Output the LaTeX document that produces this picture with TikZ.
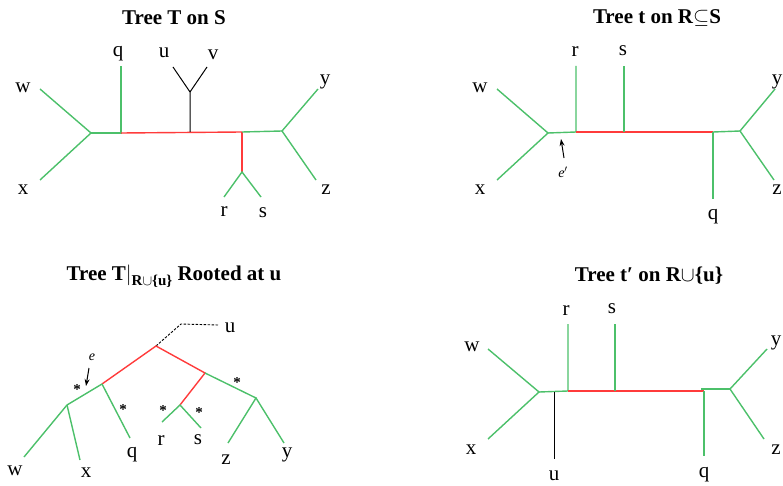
\documentclass[tikz,border=0pt]{standalone}
\usepackage{fontspec}
\setmainfont{Liberation Serif}
\usetikzlibrary{arrows.meta}
\definecolor{tg}{HTML}{4CC06A}
\definecolor{tr}{HTML}{FF3B3B}
\begin{document}
\begin{tikzpicture}[x=1pt,y=-1pt,
  gl/.style={draw=tg,line width=1.4pt},
  rl/.style={draw=tr,line width=1.4pt},
  bl/.style={draw=black,line width=1pt},
  dl/.style={draw=black,line width=0.9pt,dash pattern=on 2.5pt off 1.5pt},
  lab/.style={font=\fontsize{21}{21}\selectfont,inner sep=0pt},
  ttl/.style={font=\fontsize{21}{21}\selectfont\bfseries,inner sep=0pt},
  ast/.style={font=\fontsize{15}{15}\selectfont\bfseries,inner sep=0pt},
  elab/.style={font=\fontsize{14}{14}\selectfont\itshape,inner sep=0pt},
  arr/.style={-{Stealth[length=7pt,width=5pt]},line width=1pt}]
\useasboundingbox (0,0) rectangle (783,486);

% ---------- Panel 1 ----------
\node[ttl] (t1) at (174,18) {Tree T on S};
\coordinate (w1e) at (40,89);
\coordinate (j1) at (91,133);
\coordinate (x1e) at (40,180);
\coordinate (q1b) at (121,133);
\coordinate (q1e) at (121,66);
\coordinate (uvb) at (190,132);
\coordinate (uvj) at (190,92);
\coordinate (u1e) at (173,67);
\coordinate (v1e) at (207,67);
\coordinate (rsb) at (242,132);
\coordinate (rsj) at (242,172);
\coordinate (r1e) at (224,197);
\coordinate (s1e) at (261,197);
\coordinate (j2) at (282,131);
\coordinate (y1e) at (318,89);
\coordinate (z1e) at (316,180);
\draw[gl] (w1e) -- (j1) -- (x1e);
\draw[gl] (j1) -- (q1b) -- (q1e);
\draw[rl] (q1b) -- (rsb);
\draw[bl] (uvb) -- (uvj) -- (u1e);
\draw[bl] (uvj) -- (v1e);
\draw[rl] (rsb) -- (rsj);
\draw[gl] (r1e) -- (rsj) -- (s1e);
\draw[gl] (rsb) -- (j2);
\draw[gl] (y1e) -- (j2) -- (z1e);
\node[lab] (w1) at (23,88) {w};
\node[lab] (x1) at (23,190) {x};
\node[lab] (q1) at (118,54) {q};
\node[lab] (u1) at (164,53) {u};
\node[lab] (v1) at (213,55) {v};
\node[lab] (r1) at (224,212) {r};
\node[lab] (s1) at (263,213) {s};
\node[lab] (y1) at (325,82) {y};
\node[lab] (z1) at (326,190) {z};

% ---------- Panel 2 ----------
\node[ttl] (t2) at (657,18) {Tree t on R$\subseteq$S};
\coordinate (w2e) at (497,89);
\coordinate (j3) at (548,133);
\coordinate (x2e) at (497,180);
\coordinate (r2b) at (576,132);
\coordinate (r2e) at (576,66);
\coordinate (s2b) at (624,132);
\coordinate (s2e) at (624,66);
\coordinate (q2b) at (713,132);
\coordinate (q2e) at (713,199);
\coordinate (j4) at (740,131);
\coordinate (y2e) at (775,89);
\coordinate (z2e) at (774,180);
\draw[gl] (w2e) -- (j3) -- (x2e);
\draw[gl] (j3) -- (r2b) -- (r2e);
\draw[rl] (r2b) -- (q2b);
\draw[gl] (s2b) -- (s2e);
\draw[gl] (q2b) -- (q2e);
\draw[gl] (q2b) -- (j4);
\draw[gl] (y2e) -- (j4) -- (z2e);
\node[lab] (w2) at (480,88) {w};
\node[lab] (x2) at (480,190) {x};
\node[lab] (r2) at (575,52) {r};
\node[lab] (s2) at (623,51) {s};
\node[lab] (q2) at (713,217) {q};
\node[lab] (y2) at (777,82) {y};
\node[lab] (z2) at (777,190) {z};
\node[elab] (ep) at (563,172) {e$'$};
\coordinate (epa) at (564,158);
\coordinate (ept) at (561,139);
\draw[arr] (epa) -- (ept);

% ---------- Panel 3 ----------
\node[ttl] (t3) at (174,276) {Tree T$|$\raisebox{-5pt}{\fontsize{15}{15}\selectfont R$\cup$\{u\}} Rooted at u};
\coordinate (rt) at (156,346);
\coordinate (du) at (181,324);
\coordinate (due) at (218,325);
\coordinate (L) at (102,384);
\coordinate (R) at (205,373);
\coordinate (WX) at (67,405);
\coordinate (w3e) at (24,457);
\coordinate (x3e) at (80,460);
\coordinate (q3e) at (130,438);
\coordinate (RS) at (180,405);
\coordinate (r3e) at (162,422);
\coordinate (s3e) at (201,428);
\coordinate (ZY) at (256,398);
\coordinate (z3e) at (228,443);
\coordinate (y3e) at (284,443);
\draw[dl] (rt) -- (du) -- (due);
\draw[rl] (L) -- (rt) -- (R) -- (RS);
\draw[gl] (L) -- (WX) -- (w3e);
\draw[gl] (WX) -- (x3e);
\draw[gl] (L) -- (q3e);
\draw[gl] (r3e) -- (RS) -- (s3e);
\draw[gl] (R) -- (ZY) -- (z3e);
\draw[gl] (ZY) -- (y3e);
\node[lab] (u3) at (230,328) {u};
\node[lab] (w3) at (15,471) {w};
\node[lab] (x3) at (86,473) {x};
\node[lab] (q3) at (132,455) {q};
\node[lab] (r3) at (161,441) {r};
\node[lab] (s3) at (198,440) {s};
\node[lab] (z3) at (226,460) {z};
\node[lab] (y3) at (287,455) {y};
\node[ast] (a1) at (77,390) {*};
\node[ast] (a2) at (123,410) {*};
\node[ast] (a3) at (163,411) {*};
\node[ast] (a4) at (199,413) {*};
\node[ast] (a5) at (237,383) {*};
\node[elab] (el) at (92,357) {e};
\coordinate (ea) at (89,368);
\coordinate (et) at (86,386);
\draw[arr] (ea) -- (et);

% ---------- Panel 4 ----------
\node[ttl] (t4) at (649,276) {Tree t′ on R$\cup$\{u\}};
\coordinate (w4e) at (488,349);
\coordinate (j5) at (539,392);
\coordinate (x4e) at (488,439);
\coordinate (u4b) at (554,392);
\coordinate (u4e) at (554,459);
\coordinate (r4b) at (568,391);
\coordinate (r4e) at (568,324);
\coordinate (s4b) at (615,391);
\coordinate (s4e) at (615,324);
\coordinate (q4b) at (704,391);
\coordinate (q4e) at (704,456);
\coordinate (g4s) at (701,389);
\coordinate (j6) at (730,389);
\coordinate (y4e) at (767,349);
\coordinate (z4e) at (764,439);
\draw[gl] (w4e) -- (j5) -- (x4e);
\draw[gl] (j5) -- (r4b) -- (r4e);
\draw[bl] (u4b) -- (u4e);
\draw[rl] (r4b) -- (q4b);
\draw[gl] (s4b) -- (s4e);
\draw[gl] (g4s) -- (j6);
\draw[gl] (q4b) -- (q4e);
\draw[gl] (y4e) -- (j6) -- (z4e);
\node[lab] (w4) at (472,347) {w};
\node[lab] (x4) at (471,450) {x};
\node[lab] (u4) at (554,476) {u};
\node[lab] (r4) at (566,311) {r};
\node[lab] (s4) at (612,309) {s};
\node[lab] (q4) at (704,475) {q};
\node[lab] (y4) at (776,343) {y};
\node[lab] (z4) at (776,450) {z};
\end{tikzpicture}
\end{document}
